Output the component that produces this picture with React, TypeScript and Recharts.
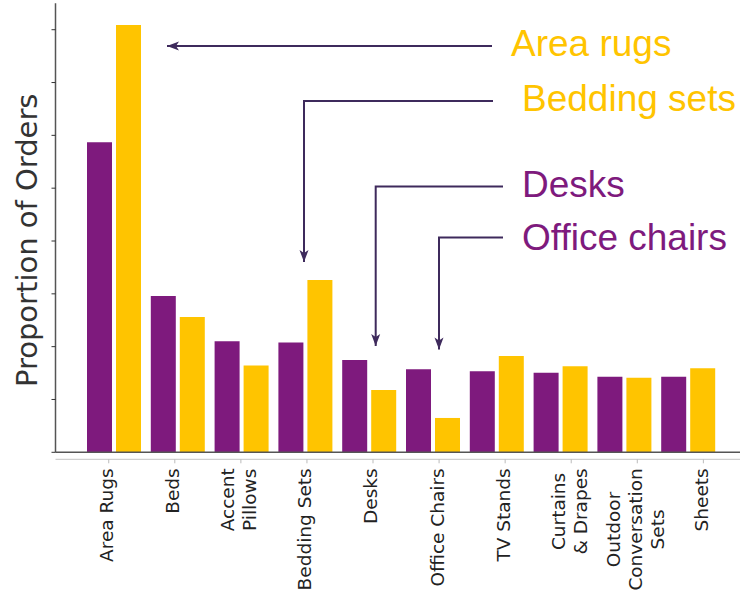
import { BarChart, Bar, XAxis, YAxis } from "recharts";

// ─── Data ────────────────────────────────────────────────────────────────────

const CATEGORIES = [
  "Area Rugs",
  "Beds",
  "Accent\nPillows",
  "Bedding Sets",
  "Desks",
  "Office Chairs",
  "TV Stands",
  "Curtains\n& Drapes",
  "Outdoor\nConversation\nSets",
  "Sheets",
];

const PURPLE_VALUES = [0.1174, 0.0592, 0.042, 0.0416, 0.0349, 0.0314, 0.0307, 0.0301, 0.0286, 0.0286];
const GOLD_VALUES = [0.1618, 0.0512, 0.0329, 0.0652, 0.0236, 0.013, 0.0365, 0.0326, 0.0282, 0.0318];

const Y_TICKS = [0, 0.02, 0.04, 0.06, 0.08, 0.1, 0.12, 0.14, 0.16];

// callouts drawn on top of the chart (label, colour, arrow path in px)
const CALLOUTS = [
  { text: "Area rugs", color: "#FFC400", tx: 511, ty: 56, path: [[492, 46], [167, 46]] },
  { text: "Bedding sets", color: "#FFC400", tx: 522, ty: 111, path: [[493, 101], [304, 101], [304, 262]] },
  { text: "Desks", color: "#7E1A7D", tx: 522, ty: 196.5, path: [[503, 186.5], [375.7, 186.5], [375.7, 346]] },
  { text: "Office chairs", color: "#7E1A7D", tx: 522, ty: 249.5, path: [[503, 237.5], [439, 237.5], [439, 349.5]] },
];

// ─── Constants ───────────────────────────────────────────────────────────────

const PURPLE = "#7E1A7D";
const GOLD = "#FFC400";
const ARROW = "#3E2A5C";
const SPINE = "#555";
const TICK_FONT = '"DejaVu Sans", sans-serif';
const TICK_SIZE = 18.5;
const LINE_STEP = 21.8;

const chartData = CATEGORIES.map((category, i) => ({
  category,
  purple: PURPLE_VALUES[i],
  gold: GOLD_VALUES[i],
}));

// ─── Helpers ─────────────────────────────────────────────────────────────────

let measureCtx: CanvasRenderingContext2D | null = null;
function textWidth(s: string): number {
  if (!measureCtx) {
    measureCtx = document.createElement("canvas").getContext("2d");
  }
  if (!measureCtx) return s.length * TICK_SIZE * 0.6;
  measureCtx.font = `${TICK_SIZE}px "DejaVu Sans"`;
  return measureCtx.measureText(s).width;
}

function CategoryTick(props: any) {
  const { x, y, payload } = props;
  const lines = String(payload.value).split("\n");
  const longest = Math.max(...lines.map(textWidth));
  const cy = y + longest / 2;
  return (
    <g>
      {lines.map((line, i) => {
        const cx = x - 2 + (i - (lines.length - 1) / 2) * LINE_STEP;
        return (
          <text
            key={i}
            x={cx}
            y={cy}
            dy="0.35em"
            transform={`rotate(-90, ${cx}, ${cy})`}
            textAnchor="middle"
            fontFamily={TICK_FONT}
            fontSize={TICK_SIZE}
            fill="#222"
          >
            {line}
          </text>
        );
      })}
    </g>
  );
}

const EmptyTick = () => <g />;

function YTitle(props: any) {
  const { viewBox } = props;
  const x = viewBox.x + 37;
  const y = viewBox.y + viewBox.height / 2 + 12.5;
  return (
    <text
      x={x}
      y={y}
      transform={`rotate(-90, ${x}, ${y})`}
      textAnchor="middle"
      fontFamily={TICK_FONT}
      fontSize={29}
      fill="#333"
    >
      Proportion of Orders
    </text>
  );
}

function arrowHead(tip: number[], from: number[]) {
  const dx = tip[0] - from[0];
  const dy = tip[1] - from[1];
  const len = Math.hypot(dx, dy) || 1;
  const ux = dx / len;
  const uy = dy / len;
  const L = 12;
  const W = 4.5;
  const bx = tip[0] - ux * L;
  const by = tip[1] - uy * L;
  const nx = tip[0] - ux * (L - 3);
  const ny = tip[1] - uy * (L - 3);
  return `M${tip[0]},${tip[1]} L${bx - uy * W},${by + ux * W} L${nx},${ny} L${bx + uy * W},${by - ux * W} Z`;
}

// ─── Component ───────────────────────────────────────────────────────────────

export default function App() {
  return (
    <div style={{ position: "absolute", left: 0, top: 0, width: 740, height: 595, background: "#fff" }}>
      <BarChart
        width={740}
        height={595}
        data={chartData}
        margin={{ top: 3.3, right: 0, bottom: 0, left: 0 }}
        barCategoryGap={5}
        barGap={4}
      >
        <XAxis
          xAxisId="top"
          orientation="top"
          dataKey="category"
          height={0}
          tick={false}
          tickLine={false}
          axisLine={{ stroke: SPINE, strokeWidth: 1.5 }}
        />
        <XAxis
          xAxisId="bars"
          dataKey="category"
          height={7}
          tick={false}
          tickLine={false}
          axisLine={{ stroke: SPINE, strokeWidth: 1.5 }}
          padding={{ left: 26.5, right: 20 }}
        />
        <XAxis
          xAxisId="labels"
          dataKey="category"
          height={135.7}
          interval={0}
          tick={<CategoryTick />}
          tickSize={4}
          tickMargin={5}
          tickLine={{ stroke: "#bbb" }}
          axisLine={{ stroke: "#c4c4c4" }}
          padding={{ left: 20.2, right: 3.6 }}
        />
        <YAxis
          width={55.5}
          domain={[0, 0.17]}
          ticks={Y_TICKS}
          interval={0}
          tick={EmptyTick}
          tickSize={4}
          tickLine={{ stroke: "#333" }}
          axisLine={{ stroke: SPINE, strokeWidth: 1.5 }}
          label={{ value: "Proportion of Orders", content: YTitle }}
        />
        <Bar xAxisId="bars" dataKey="purple" fill={PURPLE} isAnimationActive={false} />
        <Bar xAxisId="bars" dataKey="gold" fill={GOLD} isAnimationActive={false} />
      </BarChart>

      {/* callout arrows + labels */}
      <svg
        width={740}
        height={595}
        style={{ position: "absolute", left: 0, top: 0, pointerEvents: "none" }}
      >
        {CALLOUTS.map((c) => {
          const pts = c.path;
          const tip = pts[pts.length - 1];
          const prev = pts[pts.length - 2];
          return (
            <g key={c.text}>
              <polyline
                points={pts.map((p) => p.join(",")).join(" ")}
                fill="none"
                stroke={ARROW}
                strokeWidth={2}
              />
              <path d={arrowHead(tip, prev)} fill={ARROW} />
              <text
                x={c.tx}
                y={c.ty}
                fontFamily='"Liberation Sans", Arial, sans-serif'
                fontSize={37}
                fill={c.color}
              >
                {c.text}
              </text>
            </g>
          );
        })}
      </svg>
    </div>
  );
}
